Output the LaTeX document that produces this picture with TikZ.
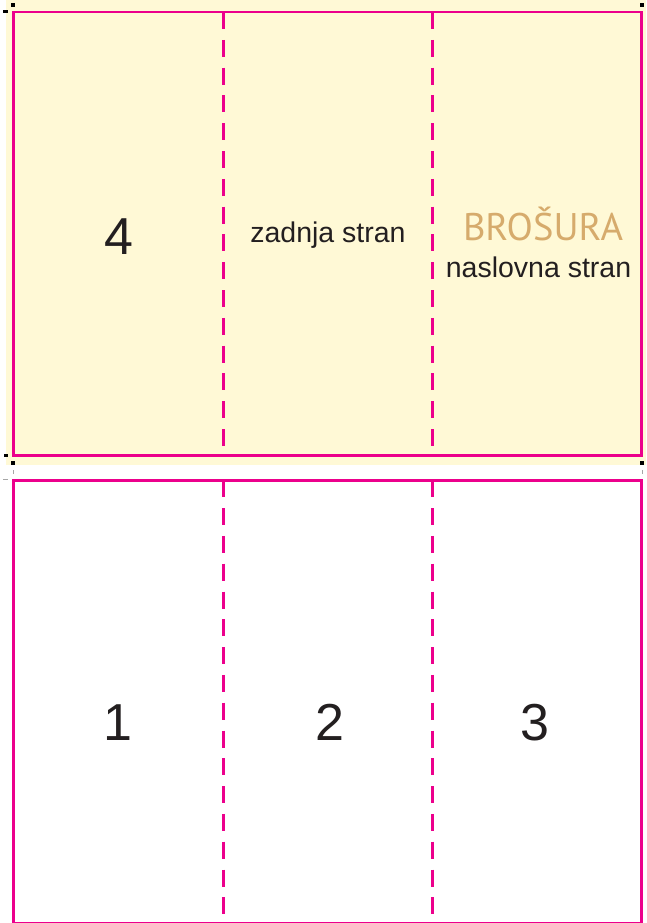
\documentclass[tikz,border=0pt]{standalone}
\usepackage{fontspec}
\setmainfont{Liberation Sans}
\newfontfamily\ptsans{PT Sans}
\definecolor{bgyellow}{RGB}{255,249,214}
\definecolor{mag}{RGB}{236,0,140}
\definecolor{tan}{RGB}{214,171,108}
\definecolor{txt}{RGB}{35,31,32}
\tikzset{
  panel/.style={draw=mag, line width=2.8pt},
  fold/.style={draw=mag, line width=3pt, dash pattern=on 17pt off 10.8pt},
  cropmark/.style={fill=black},
  greytick/.style={fill=gray!70},
  label/.style={inner sep=0pt, anchor=base, text=txt},
  digit/.style={label, font=\fontsize{52}{52}\selectfont},
  small/.style={label, font=\fontsize{28.5}{29}\selectfont},
}
\begin{document}
\begin{tikzpicture}[x=1pt, y=-1pt]
\useasboundingbox (0,0) rectangle (646,923);
\fill[white] (0,0) rectangle (646,923);
% yellow background of upper sheet
\fill[bgyellow] (6,0) rectangle (646,465);
% crop marks
\fill[cropmark] (11,3) rectangle (15,7);
\fill[cropmark] (3,10) rectangle (8,13.5);
\fill[cropmark] (640,3) rectangle (644,7);
\fill[cropmark] (4,454) rectangle (8,457);
\fill[cropmark] (11,461) rectangle (15,465);
\fill[cropmark] (640,461) rectangle (644,465);
\fill[greytick] (12.5,470) rectangle (13.5,474);
\fill[greytick] (3,479) rectangle (8,480.3);
\fill[greytick] (641.5,470) rectangle (642.5,474);
% panels
\draw[panel] (13.5,12) rectangle (641.7,455.5);
\draw[panel] (13.5,480.3) rectangle (641.7,923.8);
% fold lines
\draw[fold] (223,12) -- (223,455.5);
\draw[fold] (432,12) -- (432,455.5);
\draw[fold] (223,480.3) -- (223,923);
\draw[fold] (432,480.3) -- (432,923);
% texts
\node[digit] (p4) at (119,254) {4};
\node[small] (zadnja) at (328,242) {zadnja stran};
\node[label, text=tan, font=\ptsans\fontsize{38.5}{38.5}\selectfont] (brosura) at (543,240) {BROŠURA};
\node[small] (naslovna) at (538.5,277) {naslovna stran};
\node[digit] (p1) at (118,740) {1};
\node[digit] (p2) at (329.5,740) {2};
\node[digit] (p3) at (535,740) {3};
\end{tikzpicture}
\end{document}
